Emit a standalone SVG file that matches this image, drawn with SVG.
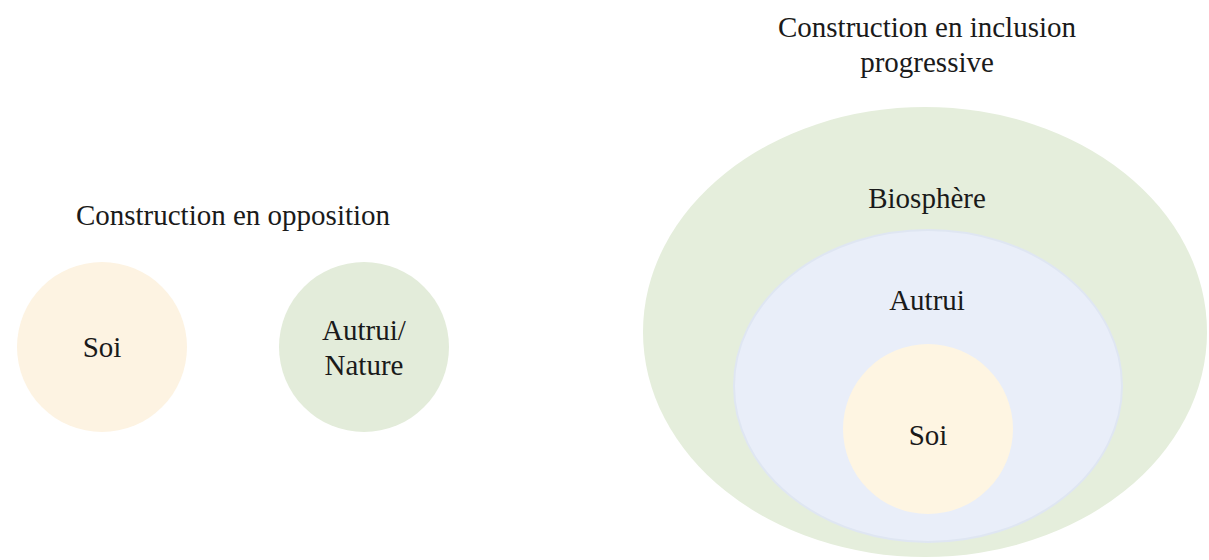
<svg xmlns="http://www.w3.org/2000/svg" width="1209" height="560" viewBox="0 0 1209 560">
<defs>
  <circle id="c85" r="85"/>
</defs>
<rect width="1209" height="560" fill="#ffffff"/>
<g font-family="Liberation Serif, Times New Roman, serif" font-size="29" fill="#1a1a1a" text-anchor="middle">
<text x="233" y="225">Construction en opposition</text>
<text x="927" y="37">Construction en inclusion</text>
<text x="927" y="72">progressive</text>
</g>
<g id="soi-left">
  <use href="#c85" x="102" y="347" fill="#fdf3e2"/>
  <text font-family="Liberation Serif, Times New Roman, serif" font-size="29" fill="#1a1a1a" text-anchor="middle" x="102" y="357">Soi</text>
</g>
<g id="autrui-nature">
  <use href="#c85" x="364" y="347" fill="#e3ecda"/>
  <text font-family="Liberation Serif, Times New Roman, serif" font-size="29" fill="#1a1a1a" text-anchor="middle" x="364" y="340">Autrui/</text>
  <text font-family="Liberation Serif, Times New Roman, serif" font-size="29" fill="#1a1a1a" text-anchor="middle" x="364" y="375">Nature</text>
</g>
<g id="biosphere">
  <ellipse cx="925" cy="332" rx="282" ry="225" fill="#e5eedc"/>
  <text font-family="Liberation Serif, Times New Roman, serif" font-size="29" fill="#1a1a1a" text-anchor="middle" x="927" y="208">Biosphère</text>
</g>
<g id="autrui">
  <ellipse cx="928" cy="386" rx="194" ry="156" fill="#e9eef9" stroke="#dfe6f2" stroke-width="2"/>
  <text font-family="Liberation Serif, Times New Roman, serif" font-size="29" fill="#1a1a1a" text-anchor="middle" x="927" y="310">Autrui</text>
</g>
<g id="soi-inner">
  <use href="#c85" x="928" y="429" fill="#fef5e2"/>
  <text font-family="Liberation Serif, Times New Roman, serif" font-size="29" fill="#1a1a1a" text-anchor="middle" x="928" y="445">Soi</text>
</g>
<g id="connectors"></g>
</svg>
